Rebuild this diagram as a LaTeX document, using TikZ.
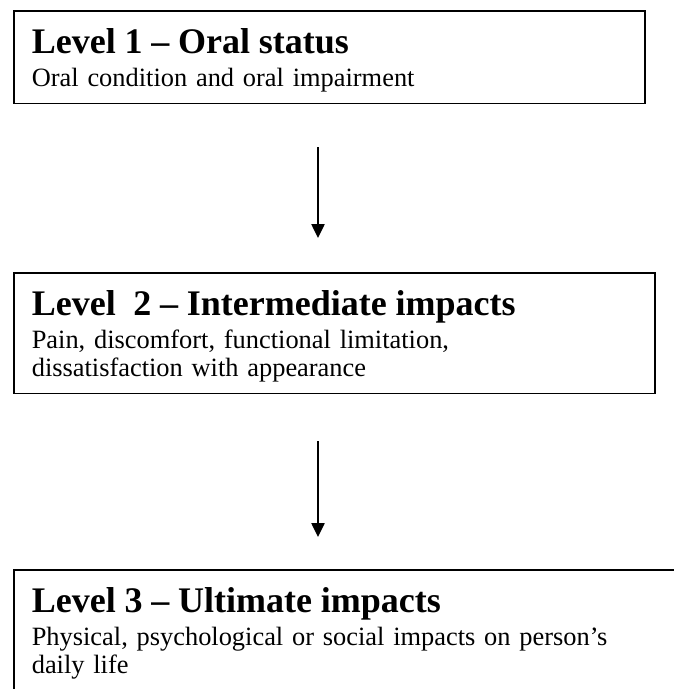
\documentclass[tikz,border=0pt]{standalone}
\usepackage{fontspec}
\setmainfont{Liberation Serif}
\usepackage{tikz}
\usetikzlibrary{positioning}
\usetikzlibrary{arrows.meta}

\newcommand{\lvl}[1]{{\fontsize{36}{36}\selectfont\bfseries\rule{0pt}{32pt}#1}}

\begin{document}
\begin{tikzpicture}[x=1pt,y=-1pt]
\tikzstyle{box}=[rectangle,align=left,draw,line width=1.6pt,anchor=north west,inner xsep=18pt,inner ysep=11pt,font=\fontsize{26.4}{28}\selectfont]
\tikzstyle{flow}=[line width=2.5pt,-{Triangle[length=14pt,width=13pt]}]
\useasboundingbox (0,0) rectangle (673,689);
\node[box,text width=595pt] at (13, 10) (a) {\lvl{Level 1 -- Oral status}\\[5pt]
                         Oral condition and oral impairment};
\node[box,text width=605pt] at (13, 272) (b) {\lvl{Level\ \ 2 -- Intermediate impacts}\\[5pt]
                         Pain, discomfort, functional limitation,\\
                         dissatisfaction with appearance};
\node[box,text width=625pt] at (13, 569) (c) {\lvl{Level 3 -- Ultimate impacts}\\[5pt]
                         Physical, psychological or social impacts on person's\\
                         daily life\\[30pt]};
\coordinate (ax) at (318, 0);
\draw[flow,shorten <=43pt,shorten >=34pt] (a.south -| ax) -- (b.north -| ax);
\draw[flow,shorten <=47pt,shorten >=32pt] (b.south -| ax) -- (c.north -| ax);
\end{tikzpicture}
\end{document}
